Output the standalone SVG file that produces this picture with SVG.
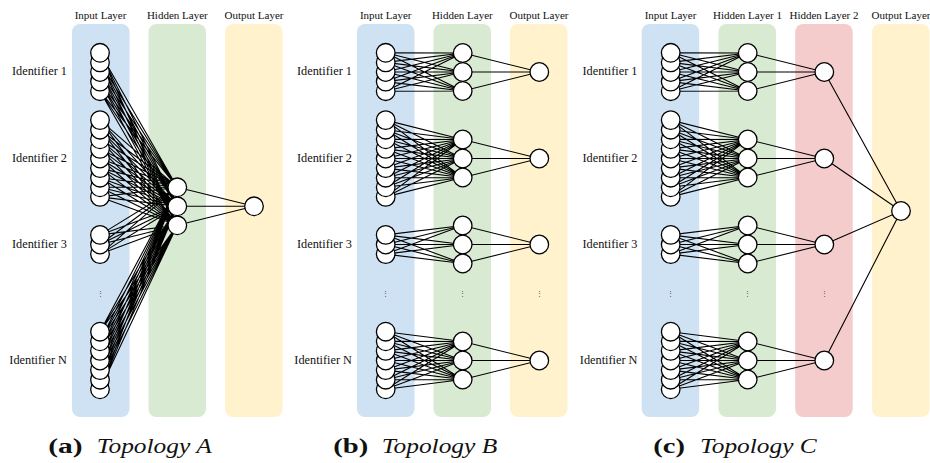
<svg xmlns="http://www.w3.org/2000/svg" xmlns:xlink="http://www.w3.org/1999/xlink" width="930" height="463" viewBox="0 0 930 463">
<style>
.bl{fill:#cfe2f3}.gr{fill:#d9ead3}.ye{fill:#fff2cc}.rd{fill:#f4cccc}
.n{fill:#fff;stroke:#000;stroke-width:1.3}
.e{fill:none;stroke:#000;stroke-width:1.1}
.lay{font-size:11px;text-anchor:middle}
.id{font-size:12.3px;text-anchor:end}
.dots{font-size:7px;text-anchor:middle;fill:#444}
.cb{font-size:20.5px;font-weight:bold}
.ci{font-size:20.5px;font-style:italic}
</style>
<defs>
<g id="s5"><circle class="n" cx="0" cy="19.2" r="9.3"/><circle class="n" cx="0" cy="9.6" r="9.3"/><circle class="n" cx="0" cy="0" r="9.3"/><circle class="n" cx="0" cy="-9.6" r="9.3"/><circle class="n" cx="0" cy="-19.2" r="9.3"/></g>
<g id="s9"><circle class="n" cx="0" cy="38.4" r="9.3"/><circle class="n" cx="0" cy="28.8" r="9.3"/><circle class="n" cx="0" cy="19.2" r="9.3"/><circle class="n" cx="0" cy="9.6" r="9.3"/><circle class="n" cx="0" cy="0" r="9.3"/><circle class="n" cx="0" cy="-9.6" r="9.3"/><circle class="n" cx="0" cy="-19.2" r="9.3"/><circle class="n" cx="0" cy="-28.8" r="9.3"/><circle class="n" cx="0" cy="-38.4" r="9.3"/></g>
<g id="s3"><circle class="n" cx="0" cy="9.6" r="9.3"/><circle class="n" cx="0" cy="0" r="9.3"/><circle class="n" cx="0" cy="-9.6" r="9.3"/></g>
<g id="s7"><circle class="n" cx="0" cy="28.8" r="9.3"/><circle class="n" cx="0" cy="19.2" r="9.3"/><circle class="n" cx="0" cy="9.6" r="9.3"/><circle class="n" cx="0" cy="0" r="9.3"/><circle class="n" cx="0" cy="-9.6" r="9.3"/><circle class="n" cx="0" cy="-19.2" r="9.3"/><circle class="n" cx="0" cy="-28.8" r="9.3"/></g>
<g id="h3"><circle class="n" cx="0" cy="-19" r="9.3"/><circle class="n" cx="0" cy="0" r="9.3"/><circle class="n" cx="0" cy="19" r="9.3"/></g>
<path id="m5" class="e" d="M77-19L0-19.2L77 19M0-19.2L77 0M77-19L0-9.6L77 19M0-9.6L77 0M77-19L0 0L77 19M0 0L77 0M77-19L0 9.6L77 19M0 9.6L77 0M77-19L0 19.2L77 19M0 19.2L77 0"/>
<path id="m9" class="e" d="M77-19L0-38.4L77 19M0-38.4L77 0M77-19L0-28.8L77 19M0-28.8L77 0M77-19L0-19.2L77 19M0-19.2L77 0M77-19L0-9.6L77 19M0-9.6L77 0M77-19L0 0L77 19M0 0L77 0M77-19L0 9.6L77 19M0 9.6L77 0M77-19L0 19.2L77 19M0 19.2L77 0M77-19L0 28.8L77 19M0 28.8L77 0M77-19L0 38.4L77 19M0 38.4L77 0"/>
<path id="m3" class="e" d="M77-19L0-9.6L77 19M0-9.6L77 0M77-19L0 0L77 19M0 0L77 0M77-19L0 9.6L77 19M0 9.6L77 0"/>
<path id="m7" class="e" d="M77-19L0-28.8L77 19M0-28.8L77 0M77-19L0-19.2L77 19M0-19.2L77 0M77-19L0-9.6L77 19M0-9.6L77 0M77-19L0 0L77 19M0 0L77 0M77-19L0 9.6L77 19M0 9.6L77 0M77-19L0 19.2L77 19M0 19.2L77 0M77-19L0 28.8L77 19M0 28.8L77 0"/>
<path id="hc" class="e" d="M0-19L76.6 0L0 19M0 0L76.6 0"/>
</defs>

<g id="backgrounds">
<rect class="bl" x="72" y="24" width="57.5" height="393" rx="8"/>
<rect class="gr" x="148.5" y="24" width="57.5" height="393" rx="8"/>
<rect class="ye" x="225" y="24" width="57.5" height="393" rx="8"/>
<rect class="bl" x="357" y="24" width="57.5" height="393" rx="8"/>
<rect class="gr" x="433.5" y="24" width="57.5" height="393" rx="8"/>
<rect class="ye" x="510" y="24" width="57.5" height="393" rx="8"/>
<rect class="bl" x="641.7" y="24" width="57.5" height="393" rx="8"/>
<rect class="gr" x="718.5" y="24" width="57.5" height="393" rx="8"/>
<rect class="rd" x="795.2" y="24" width="57.5" height="393" rx="8"/>
<rect class="ye" x="872" y="24" width="57.5" height="393" rx="8"/>
</g>

<g id="labels" font-family="Liberation Serif, Times New Roman, serif" fill="#111">
<text class="lay" x="100.5" y="19">Input Layer</text>
<text class="lay" x="177.3" y="19">Hidden Layer</text>
<text class="lay" x="254" y="19">Output Layer</text>
<text class="lay" x="385.7" y="19">Input Layer</text>
<text class="lay" x="462.3" y="19">Hidden Layer</text>
<text class="lay" x="539" y="19">Output Layer</text>
<text class="lay" x="670.5" y="19">Input Layer</text>
<text class="lay" x="747.5" y="19">Hidden Layer 1</text>
<text class="lay" x="824" y="19">Hidden Layer 2</text>
<text class="lay" x="901" y="19">Output Layer</text>
<text class="id" x="67" y="75">Identifier 1</text>
<text class="id" x="67" y="161.5">Identifier 2</text>
<text class="id" x="67" y="247.8">Identifier 3</text>
<text class="id" x="67" y="363.5">Identifier N</text>
<text class="id" x="352" y="75">Identifier 1</text>
<text class="id" x="352" y="161.5">Identifier 2</text>
<text class="id" x="352" y="247.8">Identifier 3</text>
<text class="id" x="352" y="363.5">Identifier N</text>
<text class="id" x="637.5" y="75">Identifier 1</text>
<text class="id" x="637.5" y="161.5">Identifier 2</text>
<text class="id" x="637.5" y="247.8">Identifier 3</text>
<text class="id" x="637.5" y="363.5">Identifier N</text>
<text class="dots" x="100" y="296">⋮</text>
<text class="dots" x="385.7" y="296">⋮</text>
<text class="dots" x="462.7" y="296">⋮</text>
<text class="dots" x="539.3" y="296">⋮</text>
<text class="dots" x="670.7" y="296">⋮</text>
<text class="dots" x="747.7" y="296">⋮</text>
<text class="dots" x="824.3" y="296">⋮</text>
<text class="cb" x="48.3" y="453" textLength="34.4" lengthAdjust="spacingAndGlyphs">(a)</text>
<text class="ci" x="96.7" y="453" textLength="115" lengthAdjust="spacingAndGlyphs">Topology A</text>
<text class="cb" x="333.3" y="453" textLength="35" lengthAdjust="spacingAndGlyphs">(b)</text>
<text class="ci" x="381.7" y="453" textLength="115.5" lengthAdjust="spacingAndGlyphs">Topology B</text>
<text class="cb" x="653.3" y="453" textLength="31.7" lengthAdjust="spacingAndGlyphs">(c)</text>
<text class="ci" x="700" y="453" textLength="116.7" lengthAdjust="spacingAndGlyphs">Topology C</text>
</g>

<g id="connectors">
<path class="e" d="M177.3 187.3L100 52.8L177.3 225.3M100 52.8L177.3 206.3M177.3 187.3L100 62.4L177.3 225.3M100 62.4L177.3 206.3M177.3 187.3L100 72L177.3 225.3M100 72L177.3 206.3M177.3 187.3L100 81.6L177.3 225.3M100 81.6L177.3 206.3M177.3 187.3L100 91.2L177.3 225.3M100 91.2L177.3 206.3M177.3 187.3L100 120.1L177.3 225.3M100 120.1L177.3 206.3M177.3 187.3L100 129.7L177.3 225.3M100 129.7L177.3 206.3M177.3 187.3L100 139.3L177.3 225.3M100 139.3L177.3 206.3M177.3 187.3L100 148.9L177.3 225.3M100 148.9L177.3 206.3M177.3 187.3L100 158.5L177.3 225.3M100 158.5L177.3 206.3M177.3 187.3L100 168.1L177.3 225.3M100 168.1L177.3 206.3M177.3 187.3L100 177.7L177.3 225.3M100 177.7L177.3 206.3M177.3 187.3L100 187.3L177.3 225.3M100 187.3L177.3 206.3M177.3 187.3L100 196.9L177.3 225.3M100 196.9L177.3 206.3M177.3 187.3L100 234.9L177.3 225.3M100 234.9L177.3 206.3M177.3 187.3L100 244.5L177.3 225.3M100 244.5L177.3 206.3M177.3 187.3L100 254.1L177.3 225.3M100 254.1L177.3 206.3M177.3 187.3L100 331.7L177.3 225.3M100 331.7L177.3 206.3M177.3 187.3L100 341.3L177.3 225.3M100 341.3L177.3 206.3M177.3 187.3L100 350.9L177.3 225.3M100 350.9L177.3 206.3M177.3 187.3L100 360.5L177.3 225.3M100 360.5L177.3 206.3M177.3 187.3L100 370.1L177.3 225.3M100 370.1L177.3 206.3M177.3 187.3L100 379.7L177.3 225.3M100 379.7L177.3 206.3M177.3 187.3L100 389.3L177.3 225.3M100 389.3L177.3 206.3"/>
<path class="e" d="M177.3 187.3L254 206.3L177.3 225.3M177.3 206.3L254 206.3"/>
<use href="#m5" x="385.7" y="72"/>
<use href="#m9" x="385.7" y="158.5"/>
<use href="#m3" x="385.7" y="244.5"/>
<use href="#m7" x="385.7" y="360.5"/>
<use href="#hc" x="462.7" y="72"/>
<use href="#hc" x="462.7" y="158.5"/>
<use href="#hc" x="462.7" y="244.5"/>
<use href="#hc" x="462.7" y="360.5"/>
<use href="#m5" x="670.7" y="72"/>
<use href="#m9" x="670.7" y="158.5"/>
<use href="#m3" x="670.7" y="244.5"/>
<use href="#m7" x="670.7" y="360.5"/>
<use href="#hc" x="747.7" y="72"/>
<use href="#hc" x="747.7" y="158.5"/>
<use href="#hc" x="747.7" y="244.5"/>
<use href="#hc" x="747.7" y="360.5"/>
<path class="e" d="M824.3 72L901 211L824.3 158.5M824.3 244.5L901 211L824.3 360.5"/>
</g>

<g id="a-input-1"><use href="#s5" x="100" y="72"/></g>
<g id="a-input-2"><use href="#s9" x="100" y="158.5"/></g>
<g id="a-input-3"><use href="#s3" x="100" y="244.5"/></g>
<g id="a-input-n"><use href="#s7" x="100" y="360.5"/></g>
<g id="a-hidden"><use href="#h3" x="177.3" y="206.3"/></g>
<g id="a-output"><circle class="n" cx="254" cy="206.3" r="9.3"/></g>

<g id="b-input-1"><use href="#s5" x="385.7" y="72"/></g>
<g id="b-input-2"><use href="#s9" x="385.7" y="158.5"/></g>
<g id="b-input-3"><use href="#s3" x="385.7" y="244.5"/></g>
<g id="b-input-n"><use href="#s7" x="385.7" y="360.5"/></g>
<g id="b-hidden-1"><use href="#h3" x="462.7" y="72"/></g>
<g id="b-hidden-2"><use href="#h3" x="462.7" y="158.5"/></g>
<g id="b-hidden-3"><use href="#h3" x="462.7" y="244.5"/></g>
<g id="b-hidden-n"><use href="#h3" x="462.7" y="360.5"/></g>
<g id="b-output-1"><circle class="n" cx="539.3" cy="72" r="9.3"/></g>
<g id="b-output-2"><circle class="n" cx="539.3" cy="158.5" r="9.3"/></g>
<g id="b-output-3"><circle class="n" cx="539.3" cy="244.5" r="9.3"/></g>
<g id="b-output-n"><circle class="n" cx="539.3" cy="360.5" r="9.3"/></g>

<g id="c-input-1"><use href="#s5" x="670.7" y="72"/></g>
<g id="c-input-2"><use href="#s9" x="670.7" y="158.5"/></g>
<g id="c-input-3"><use href="#s3" x="670.7" y="244.5"/></g>
<g id="c-input-n"><use href="#s7" x="670.7" y="360.5"/></g>
<g id="c-hidden1-1"><use href="#h3" x="747.7" y="72"/></g>
<g id="c-hidden1-2"><use href="#h3" x="747.7" y="158.5"/></g>
<g id="c-hidden1-3"><use href="#h3" x="747.7" y="244.5"/></g>
<g id="c-hidden1-n"><use href="#h3" x="747.7" y="360.5"/></g>
<g id="c-hidden2-1"><circle class="n" cx="824.3" cy="72" r="9.3"/></g>
<g id="c-hidden2-2"><circle class="n" cx="824.3" cy="158.5" r="9.3"/></g>
<g id="c-hidden2-3"><circle class="n" cx="824.3" cy="244.5" r="9.3"/></g>
<g id="c-hidden2-n"><circle class="n" cx="824.3" cy="360.5" r="9.3"/></g>
<g id="c-output"><circle class="n" cx="901" cy="211" r="9.3"/></g>
</svg>
